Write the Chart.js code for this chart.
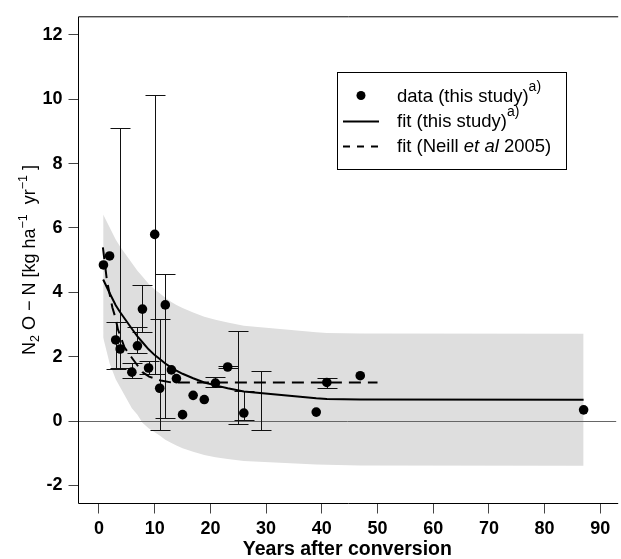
<!DOCTYPE html>
<html><head><meta charset="utf-8">
<script src="https://cdn.jsdelivr.net/npm/chart.js@4/dist/chart.umd.min.js"></script>
<style>html,body{margin:0;padding:0;background:#fff;overflow:hidden}
#wrap{position:relative;width:621px;height:559px}</style>
</head><body><div id="wrap"><canvas id="c" width="621" height="559"></canvas></div>
<script>
// ---- axis ticks ----
const xTicks = [0,10,20,30,40,50,60,70,80,90];
const yTicks = [-2,0,2,4,6,8,10,12];
// ---- observations (this study) ----
const obsYears = [0.8,1.9,3.0,3.8,5.9,6.9,7.8,8.9,10.0,10.9,11.9,13.0,13.9,15.0,16.9,18.9,20.9,23.1,26.0,39.0,40.9,46.9,87.0];
const obsN2O   = [4.85,5.13,2.52,2.24,1.52,2.34,3.48,1.65,5.80,1.02,3.61,1.59,1.32,0.20,0.80,0.67,1.18,1.68,0.25,0.28,1.20,1.41,0.35];
// ---- error bars ----
const errYears = [3.0,3.8,5.9,6.9,7.8,8.9,10.0,10.9,11.9,20.9,23.1,25.0,26.0,29.0,40.9];
const errLow   = [1.62,1.65,1.33,2.10,2.76,1.45,1.46,-0.27,0.10,1.07,1.66,-0.08,0.04,-0.27,1.04];
const errHigh  = [3.09,9.10,1.81,2.93,4.22,1.86,10.14,3.17,4.58,1.36,1.72,2.81,0.95,1.57,1.34];
// ---- fit (this study) and its band ----
const fitYears = [0.75,1.9,3.0,3.8,5.9,6.9,7.8,8.9,10.0,10.9,11.9,13.0,13.9,15.0,16.9,18.9,20.9,23.1,26.0,39.0,40.9,46.9,87.0];
const fitN2O   = [4.40,3.98,3.60,3.38,2.87,2.63,2.45,2.23,2.05,1.93,1.79,1.66,1.57,1.47,1.33,1.20,1.11,1.02,0.92,0.71,0.69,0.67,0.66];
const bandUpper= [6.42,6.02,5.64,5.42,4.91,4.67,4.49,4.27,4.09,3.97,3.83,3.70,3.61,3.51,3.37,3.24,3.15,3.06,2.96,2.76,2.74,2.72,2.71];
const bandLower= [2.60,1.80,1.30,1.05,0.40,0.20,-0.05,-0.22,-0.35,-0.45,-0.58,-0.68,-0.76,-0.84,-0.95,-1.05,-1.12,-1.18,-1.24,-1.35,-1.36,-1.38,-1.39];
// ---- fit (Neill et al 2005) ----
const neillYears = [0.7,1.43,2.4,2.97,3.4,4.57,5.76,7.8,9.0,11.1,13.0,50.0];
const neillN2O   = [5.40,4.36,3.53,3.20,2.85,2.29,2.00,1.52,1.38,1.26,1.20,1.20];

const FONT = '"Liberation Sans", Arial, Helvetica, sans-serif';
const pts = (xs, ys) => xs.map((x,i)=>({x:x, y:ys[i]}));

const overlay = {
  id:'overlay',
  afterDatasetDraw(chart, args){
    if (args.index !== 3) return;
    const {ctx, chartArea:a, scales:{x:xs, y:ys}} = chart;
    ctx.save();
    const y0 = Math.round(ys.getPixelForValue(0)) + 0.5;
    ctx.strokeStyle = '#666'; ctx.lineWidth = 1;
    ctx.beginPath(); ctx.moveTo(a.left, y0); ctx.lineTo(a.right, y0); ctx.stroke();
    ctx.strokeStyle = '#111'; ctx.lineWidth = 1;
    for (let i=0;i<errYears.length;i++){
      const px = Math.round(xs.getPixelForValue(errYears[i])) + 0.5;
      const pl = Math.round(ys.getPixelForValue(errLow[i])) + 0.5;
      const ph = Math.round(ys.getPixelForValue(errHigh[i])) + 0.5;
      ctx.beginPath();
      ctx.moveTo(px, pl); ctx.lineTo(px, ph);
      ctx.moveTo(px-10, pl); ctx.lineTo(px+10, pl);
      ctx.moveTo(px-10, ph); ctx.lineTo(px+10, ph);
      ctx.stroke();
    }
    ctx.restore();
  },
  afterDraw(chart){
    const {ctx, chartArea:a} = chart;
    ctx.save();
    ctx.strokeStyle = '#000'; ctx.lineWidth = 1;
    ctx.beginPath();
    ctx.moveTo(a.right+2, a.top); ctx.lineTo(a.left, a.top); ctx.lineTo(a.left, a.bottom); ctx.lineTo(a.right+2, a.bottom);
    ctx.stroke();
    // y-axis title with sub/superscripts
    const big = '18px '+FONT, small = '12.5px '+FONT;
    const parts = [
      {t:'N', f:big, dy:0}, {t:'2', f:small, dy:4}, {t:' O \u2212 N [kg ha', f:big, dy:0},
      {t:'\u22121', f:small, dy:-8}, {t:'  yr', f:big, dy:0}, {t:'\u22121', f:small, dy:-8}, {t:' ]', f:big, dy:0}
    ];
    let total = 0;
    parts.forEach(p=>{ctx.font=p.f; p.w=ctx.measureText(p.t).width; total+=p.w;});
    ctx.translate(35, 260); ctx.rotate(-Math.PI/2);
    ctx.fillStyle = '#000'; ctx.textBaseline = 'alphabetic'; ctx.textAlign = 'left';
    let cx = -total/2;
    parts.forEach(p=>{ctx.font=p.f; ctx.fillText(p.t, cx, p.dy); cx+=p.w;});
    ctx.restore();

    // legend
    ctx.save();
    const L = 337.5, T = 72.5, R = 566.5, B = 169.5;
    ctx.strokeStyle = '#000'; ctx.lineWidth = 1;
    ctx.strokeRect(L, T, R-L, B-T);
    const rows = [96.5, 121.5, 146.5];
    const tx = 397;
    ctx.fillStyle = '#000';
    ctx.beginPath(); ctx.arc(361, rows[0]-1, 4.5, 0, Math.PI*2); ctx.fill();
    ctx.lineWidth = 2;
    ctx.beginPath(); ctx.moveTo(343, rows[1]); ctx.lineTo(379, rows[1]); ctx.stroke();
    ctx.setLineDash([7,7]);
    ctx.beginPath(); ctx.moveTo(343, rows[2]); ctx.lineTo(380, rows[2]); ctx.stroke();
    ctx.setLineDash([]);
    const lf = '18.5px '+FONT, lfi = 'italic 18.5px '+FONT, sf = '14px '+FONT;
    ctx.textBaseline = 'middle'; ctx.textAlign = 'left';
    const drawRun = (runs, y) => {
      let x = tx;
      runs.forEach(r=>{ ctx.font = r.f; ctx.fillText(r.t, x, y + (r.dy||0)); x += ctx.measureText(r.t).width; });
    };
    drawRun([{t:'data (this study)', f:lf}, {t:'a)', f:sf, dy:-9}], rows[0]);
    drawRun([{t:'fit (this study)', f:lf}, {t:'a)', f:sf, dy:-9}], rows[1]);
    drawRun([{t:'fit (Neill ', f:lf}, {t:'et al', f:lfi}, {t:' 2005)', f:lf}], rows[2]);
    ctx.restore();
  }
};

new Chart(document.getElementById('c'), {
  type: 'scatter',
  data: {
    datasets: [
      { label:'data', data: pts(obsYears, obsN2O), pointRadius:4.8, pointHoverRadius:4.8,
        pointBackgroundColor:'#000', pointBorderWidth:0, showLine:false, order:0 },
      { label:'fit', data: pts(fitYears, fitN2O), showLine:true, borderColor:'#000', borderWidth:2,
        pointRadius:0, fill:false, tension:0, order:1 },
      { label:'neill', data: pts(neillYears, neillN2O), showLine:true, borderColor:'#000', borderWidth:2,
        borderDash:[12,7], pointRadius:0, fill:false, tension:0, order:2 },
      { label:'upper', data: pts(fitYears, bandUpper), showLine:true, borderWidth:0, borderColor:'rgba(0,0,0,0)',
        backgroundColor:'#dedede', pointRadius:0, fill:'+1', tension:0, order:5 },
      { label:'lower', data: pts(fitYears, bandLower), showLine:true, borderWidth:0, borderColor:'rgba(0,0,0,0)',
        pointRadius:0, fill:false, tension:0, order:6 }
    ]
  },
  options: {
    responsive:false, animation:false, devicePixelRatio:1,
    layout:{ padding:{ top:15, left:0, right:0, bottom:0 } },
    plugins:{ legend:{display:false}, tooltip:{enabled:false} },
    scales:{
      x:{ type:'linear', min:-3.68, max:92.85,
          afterBuildTicks:(s)=>{ s.ticks = xTicks.map(v=>({value:v})); },
          afterFit:(s)=>{ s.height = 55.5; },
          grid:{ drawOnChartArea:false, drawTicks:true, tickLength:10, color:'#444', lineWidth:1 },
          border:{ display:false },
          ticks:{ color:'#000', padding:5, maxRotation:0, autoSkip:false, font:{ family:FONT, size:18, weight:'bold' } },
          title:{ display:true, text:'Years after conversion', color:'#000', padding:0,
                  font:{ family:FONT, size:19.5, weight:'bold', lineHeight:1 } } },
      y:{ type:'linear', min:-2.56, max:12.56,
          afterBuildTicks:(s)=>{ s.ticks = yTicks.map(v=>({value:v})); },
          afterFit:(s)=>{ s.width = 78.5; },
          grid:{ drawOnChartArea:false, drawTicks:true, tickLength:10, color:'#444', lineWidth:1 },
          border:{ display:false },
          ticks:{ color:'#000', padding:6, autoSkip:false, font:{ family:FONT, size:18, weight:'bold' } } }
    }
  },
  plugins:[overlay]
});
</script></body></html>
